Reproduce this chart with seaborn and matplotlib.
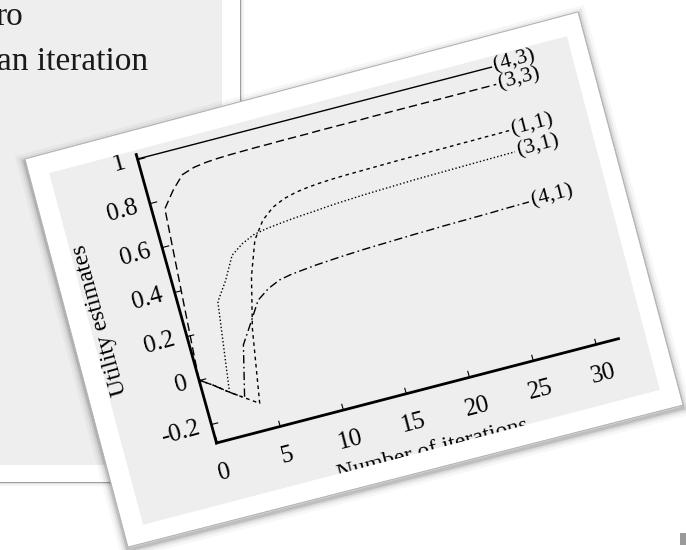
"""Value iteration utilities, drawn as a tilted card on a slide."""

import numpy as np
import pandas as pd
import matplotlib
matplotlib.use("Agg")
import matplotlib.pyplot as plt
import seaborn as sns
from matplotlib.patches import Polygon, Rectangle, PathPatch
from matplotlib.path import Path
from matplotlib.transforms import Affine2D
import mpl_toolkits.axisartist.floating_axes as floating_axes
from mpl_toolkits.axisartist.grid_finder import FixedLocator, DictFormatter


# Data
ITERATIONS = [0, 1, 2, 3, 4, 5, 6, 7, 8, 9, 10, 11, 12, 13, 14,
              15, 16, 17, 18, 19, 20, 21, 22, 23, 24, 25, 26, 27, 28]
U_43 = [1.0, 1.0, 1.0, 1.0, 1.0, 1.0, 1.0, 1.0, 1.0, 1.0, 1.0, 1.0, 1.0, 1.0, 1.0,
        1.0, 1.0, 1.0, 1.0, 1.0, 1.0, 1.0, 1.0, 1.0, 1.0, 1.0, 1.0, 1.0, 1.0]
U_33 = [0.0, 0.76, 0.83, 0.885, 0.903, 0.911, 0.915, 0.917, 0.918, 0.919, 0.919, 0.920, 0.920, 0.920, 0.921,
        0.921, 0.921, 0.921, 0.922, 0.922, 0.922, 0.922, 0.922, 0.922, 0.922, 0.922, 0.922, 0.922, 0.922]
U_11 = [0.0, -0.04, -0.085, -0.125, -0.165, 0.16, 0.38, 0.53, 0.605, 0.648, 0.672, 0.686, 0.694, 0.699, 0.702,
        0.704, 0.705, 0.706, 0.707, 0.708, 0.709, 0.709, 0.710, 0.710, 0.711, 0.711, 0.712, 0.712, 0.713]
U_31 = [0.0, -0.04, -0.085, 0.31, 0.39, 0.49, 0.528, 0.553, 0.564, 0.571, 0.577, 0.582, 0.586, 0.591, 0.595,
        0.598, 0.601, 0.603, 0.605, 0.607, 0.609, 0.610, 0.611, 0.612, 0.613, 0.614, 0.615, 0.616, 0.617]
U_41 = [0.0, -0.04, -0.085, -0.125, 0.10, 0.185, 0.272, 0.31, 0.334, 0.345, 0.351, 0.357, 0.361, 0.365, 0.368,
        0.371, 0.373, 0.375, 0.377, 0.379, 0.380, 0.382, 0.383, 0.384, 0.385, 0.386, 0.388, 0.389, 0.390]
STATES = ["(4,3)", "(3,3)", "(1,1)", "(3,1)", "(4,1)"]

X_TICKS = [0, 5, 10, 15, 20, 25, 30]
Y_TICKS = [-0.2, 0.0, 0.2, 0.4, 0.6, 0.8, 1.0]
Y_TICK_LABELS = ["-0.2", "0", "0.2", "0.4", "0.6", "0.8", "1"]
X_LABEL = "Number of iterations"
Y_LABEL = "Utility estimates"

# Line styles per state (seaborn dash specs)
DASHES = {
    "(4,3)": "",
    "(3,3)": (6, 3),
    "(1,1)": (2.6, 2.6),
    "(3,1)": (1, 1.6),
    "(4,1)": (6, 2.4, 1.2, 2.4),
}

SERIF = ["Liberation Serif", "DejaVu Serif"]
GRAY = "#eeeeee"
W, H = 686, 550

# Slide geometry (pixels, y down)
CARD = [(25, 159), (578, 12), (683, 405), (128, 547)]
INNER = [(49, 173), (567, 36), (660, 390), (143, 525)]

# Chart placement: data -> pixels (y up)
CHART_TR = Affine2D(np.array([[12.64, -61.5, 199.0],
                              [3.28, 221.0, 170.0],
                              [0.0, 0.0, 1.0]]))
EXTREMES = (0, 31.8, -0.285, 1.02)
TILT = np.degrees(np.arctan2(3.28, 12.64))


fig = plt.figure(figsize=(W / 100, H / 100), dpi=100)
fig.patch.set_facecolor("white")

# --- background: slide, text panel, card ---
bg = fig.add_axes([0, 0, 1, 1], zorder=0)
bg.set_xlim(0, W)
bg.set_ylim(H, 0)
bg.axis("off")

# text panel with its frame shadow
for lw, a in [(6, 0.04), (3, 0.08), (1.2, 0.35)]:
    bg.add_patch(Rectangle((-20, -20), 260, 502, fill=False, edgecolor="black",
                           linewidth=lw, alpha=a))
bg.add_patch(Rectangle((-20, -20), 260, 502, facecolor="white", edgecolor="none"))
bg.add_patch(Rectangle((0, 0), 222, 465, facecolor=GRAY, edgecolor="none"))
bg.text(23, 25, "ro", ha="right", va="baseline", fontsize=24, family=SERIF, color="#1a1a1a")
bg.text(148, 70, "an iteration", ha="right", va="baseline", fontsize=24, family=SERIF,
        color="#1a1a1a")

# card shadow, card and the grey picture inside it
shadow = [(x, y + 3) for x, y in CARD]
for lw, a in [(12, 0.03), (8, 0.05), (5, 0.07), (2.5, 0.12)]:
    bg.add_patch(Polygon(shadow, closed=True, fill=False, edgecolor="black",
                         linewidth=lw, alpha=a, joinstyle="miter"))
bg.add_patch(Polygon(CARD, closed=True, facecolor="white", edgecolor="#b0b0b0", linewidth=0.6))
bg.add_patch(Polygon(INNER, closed=True, facecolor=GRAY, edgecolor="none"))
bg.add_patch(Rectangle((680, 533), 6, 12, facecolor="#9a9a9a", edgecolor="none"))

# --- the chart on floating (tilted) axes ---
grid_helper = floating_axes.GridHelperCurveLinear(
    CHART_TR, extremes=EXTREMES,
    grid_locator1=FixedLocator(X_TICKS),
    grid_locator2=FixedLocator(Y_TICKS),
    tick_formatter1=DictFormatter({v: str(v) for v in X_TICKS}),
    tick_formatter2=DictFormatter(dict(zip(Y_TICKS, Y_TICK_LABELS))),
)
x0, x1, y0, y1 = EXTREMES
corners = CHART_TR.transform([(x0, y0), (x1, y0), (x1, y1), (x0, y1)])
cmin, cmax = corners.min(axis=0), corners.max(axis=0)
cen = (cmin + cmax) / 2
size = (cmax - cmin) * 1.02
ax = fig.add_axes([(cen[0] - size[0] / 2) / W, (cen[1] - size[1] / 2) / H,
                   size[0] / W, size[1] / H],
                  axes_class=floating_axes.FloatingAxes, grid_helper=grid_helper, zorder=1)
ax.patch.set_facecolor("none")
ax.patch.set_edgecolor("none")
ax.axis["top"].set_visible(False)
ax.axis["right"].set_visible(False)

for side in ["left", "bottom"]:
    a = ax.axis[side]
    a.line.set_linewidth(2.0)
    a.major_ticks.set_tick_out(False)
    a.major_ticks.set_ticksize(5)
    a.major_ticks.set_linewidth(1.5)
    a.major_ticklabels.set_fontsize(18)
    a.major_ticklabels.set_fontfamily(SERIF)
    a.label.set_fontsize(17)
    a.label.set_fontfamily(SERIF)
    a.label.set_visible(True)
ax.axis["left"].label.set_text(Y_LABEL)
ax.axis["bottom"].label.set_text(X_LABEL)
ax.axis["left"].major_ticklabels.set_pad(9)
ax.axis["bottom"].major_ticklabels.set_pad(14)
ax.axis["left"].label.set_pad(12)
ax.axis["bottom"].label.set_pad(10)

aux = ax.get_aux_axes(CHART_TR)

df = pd.concat([
    pd.DataFrame({"iteration": ITERATIONS, "utility": vals, "state": name})
    for name, vals in zip(STATES, [U_43, U_33, U_11, U_31, U_41])
])
sns.lineplot(data=df, x="iteration", y="utility", hue="state", style="state",
             palette={s: "black" for s in STATES}, dashes=DASHES,
             linewidth=1.0, legend=False, errorbar=None, ax=aux)

for name, vals in zip(STATES, [U_43, U_33, U_11, U_31, U_41]):
    aux.text(ITERATIONS[-1] + 0.2, vals[-1], name, rotation=TILT, rotation_mode="anchor",
             ha="left", va="center", fontsize=16, family=SERIF, color="black")

# --- white card frame on top, crops the picture's edges ---
ov = fig.add_axes([0, 0, 1, 1], zorder=3)
ov.set_xlim(0, W)
ov.set_ylim(H, 0)
ov.axis("off")
ov.patch.set_visible(False)
ring = Path(CARD + [CARD[0]] + INNER[::-1] + [INNER[-1]],
            [Path.MOVETO, Path.LINETO, Path.LINETO, Path.LINETO, Path.CLOSEPOLY] * 2)
ov.add_patch(PathPatch(ring, facecolor="white", edgecolor="none"))
ov.add_patch(Polygon(CARD, closed=True, fill=False, edgecolor="#b0b0b0", linewidth=0.6))

fig.savefig("out.png", dpi=100)
